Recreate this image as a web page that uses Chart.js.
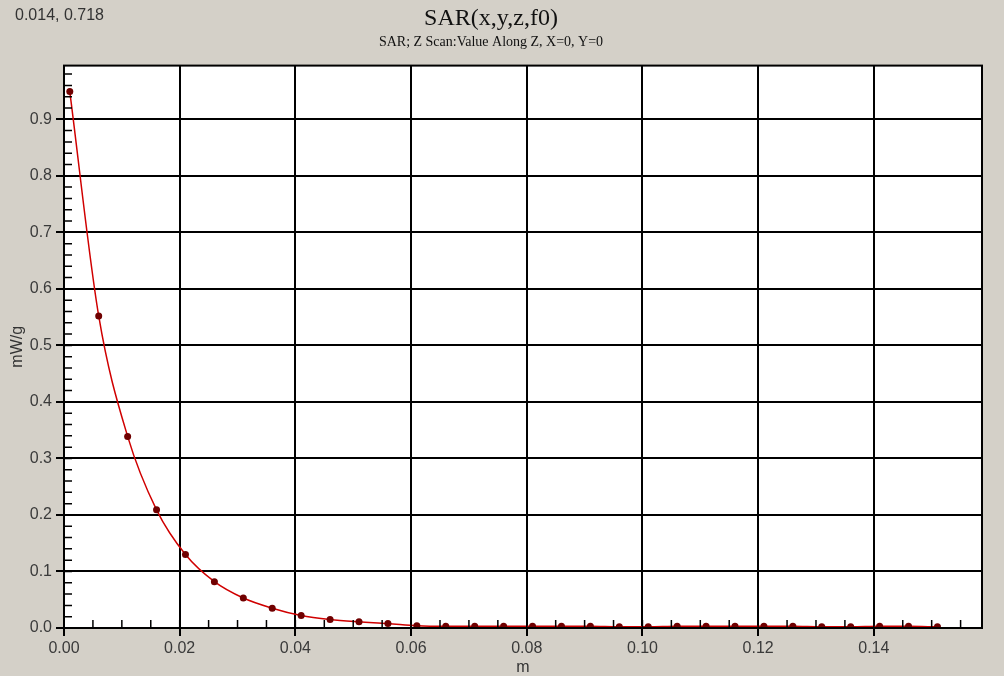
<!DOCTYPE html>
<html>
<head>
<meta charset="utf-8">
<title>SAR(x,y,z,f0)</title>
<script src="https://cdn.jsdelivr.net/npm/chart.js@4.4.1/dist/chart.umd.min.js"></script>
<style>
    html, body {
        margin: 0;
        padding: 0;
        background: #d4d0c8;
    }

    canvas {
        display: block;
    }
</style>
</head>
<body>
<canvas id="graficoSar" width="1004" height="676"></canvas>
<script>
// z position (m) of each scan point
const zPositions = [
    0.001, 0.006, 0.011, 0.016, 0.021, 0.026, 0.031, 0.036, 0.041, 0.046,
    0.051, 0.056, 0.061, 0.066, 0.071, 0.076, 0.081, 0.086, 0.091, 0.096,
    0.101, 0.106, 0.111, 0.116, 0.121, 0.126, 0.131, 0.136, 0.141, 0.146,
    0.151
];

// SAR (mW/g)
const sarValues = [
    0.949, 0.552, 0.339, 0.209, 0.130, 0.082, 0.053, 0.035, 0.022, 0.015,
    0.011, 0.008, 0.004, 0.003, 0.003, 0.003, 0.003, 0.003, 0.003, 0.002,
    0.002, 0.003, 0.003, 0.003, 0.003, 0.003, 0.002, 0.002, 0.003, 0.003,
    0.002
];

const xTickValues = [0, 0.02, 0.04, 0.06, 0.08, 0.10, 0.12, 0.14];
const yTickValues = [0, 0.1, 0.2, 0.3, 0.4, 0.5, 0.6, 0.7, 0.8, 0.9];

const xMinorStep = 0.005;
const yMinorStep = 0.02;

const cursorReadout = "0.014, 0.718";

const sansFont = "'Liberation Sans', Arial, sans-serif";
const serifFont = "'Liberation Serif', 'Times New Roman', serif";


function minorValues(step, max) {
    const valores = [];
    for (let i = 1; i * step < max; i++) {
        valores.push(i * step);
    }
    return valores;
}


const plotFrame = {
    id: "plotFrame",
    beforeDraw(chart) {
        const { ctx, chartArea: a } = chart;
        ctx.save();
        ctx.fillStyle = "#ffffff";
        ctx.fillRect(a.left, a.top, a.right - a.left, a.bottom - a.top);
        ctx.restore();
    },
    afterDraw(chart) {
        const { ctx, chartArea: a, scales } = chart;
        ctx.save();
        ctx.strokeStyle = "#000000";
        ctx.lineWidth = 1.5;

        ctx.beginPath();
        minorValues(xMinorStep, scales.x.max).forEach(v => {
            const px = scales.x.getPixelForValue(v);
            ctx.moveTo(px, a.bottom);
            ctx.lineTo(px, a.bottom - 8);
        });
        minorValues(yMinorStep, scales.y.max).forEach(v => {
            const py = scales.y.getPixelForValue(v);
            ctx.moveTo(a.left, py);
            ctx.lineTo(a.left + 8, py);
        });
        ctx.stroke();

        ctx.lineWidth = 2;
        ctx.strokeRect(a.left, a.top, a.right - a.left, a.bottom - a.top);

        ctx.fillStyle = "#333333";
        ctx.font = "16px " + sansFont;
        ctx.textBaseline = "middle";
        ctx.textAlign = "left";
        ctx.fillText(cursorReadout, 15, 16);
        ctx.restore();
    }
};


const pontos = zPositions.map((z, i) => ({ x: z, y: sarValues[i] }));

new Chart(document.getElementById("graficoSar"), {
    type: "line",
    data: {
        datasets: [
            {
                label: "SAR",
                data: pontos,
                borderColor: "#d00000",
                borderWidth: 1.5,
                cubicInterpolationMode: "monotone",
                pointRadius: 3.5,
                pointBackgroundColor: "#700000",
                pointBorderColor: "#700000",
                pointBorderWidth: 0
            }
        ]
    },
    options: {
        responsive: false,
        animation: false,
        layout: {
            padding: { left: 0, right: 22, top: 0, bottom: 0 }
        },
        plugins: {
            legend: { display: false },
            tooltip: { enabled: false },
            title: {
                display: true,
                text: "SAR(x,y,z,f0)",
                color: "#111111",
                font: { family: serifFont, size: 24, weight: "normal" },
                padding: { top: 4, bottom: 0 }
            },
            subtitle: {
                display: true,
                text: "SAR; Z Scan:Value Along Z, X=0, Y=0",
                color: "#111111",
                font: { family: serifFont, size: 14, weight: "normal" },
                padding: { top: 1, bottom: 15 }
            }
        },
        scales: {
            x: {
                type: "linear",
                min: 0,
                max: 0.1587,
                afterFit: scale => { scale.height = 48; },
                afterBuildTicks: scale => {
                    scale.ticks = xTickValues.map(v => ({ value: v }));
                },
                ticks: {
                    color: "#3a3a3a",
                    font: { family: sansFont, size: 16 },
                    padding: 3,
                    maxRotation: 0,
                    autoSkip: false,
                    callback: value => Number(value).toFixed(2)
                },
                grid: {
                    color: "#000000",
                    lineWidth: 2,
                    tickLength: 8,
                    tickColor: "#000000"
                },
                border: { color: "#000000", width: 2 },
                title: {
                    display: true,
                    text: "m",
                    color: "#333333",
                    font: { family: sansFont, size: 16, lineHeight: 1 },
                    padding: { top: 0, bottom: 0 }
                }
            },
            y: {
                type: "linear",
                min: 0,
                max: 0.995,
                afterFit: scale => { scale.width = 64; },
                afterBuildTicks: scale => {
                    scale.ticks = yTickValues.map(v => ({ value: v }));
                },
                ticks: {
                    color: "#3a3a3a",
                    font: { family: sansFont, size: 16 },
                    padding: 4,
                    autoSkip: false,
                    callback: value => Number(value).toFixed(1)
                },
                grid: {
                    color: "#000000",
                    lineWidth: 2,
                    tickLength: 8,
                    tickColor: "#000000"
                },
                border: { color: "#000000", width: 2 },
                title: {
                    display: true,
                    text: "mW/g",
                    color: "#333333",
                    font: { family: sansFont, size: 16 },
                    padding: { top: 8, bottom: 0 }
                }
            }
        }
    },
    plugins: [plotFrame]
});
</script>
</body>
</html>
